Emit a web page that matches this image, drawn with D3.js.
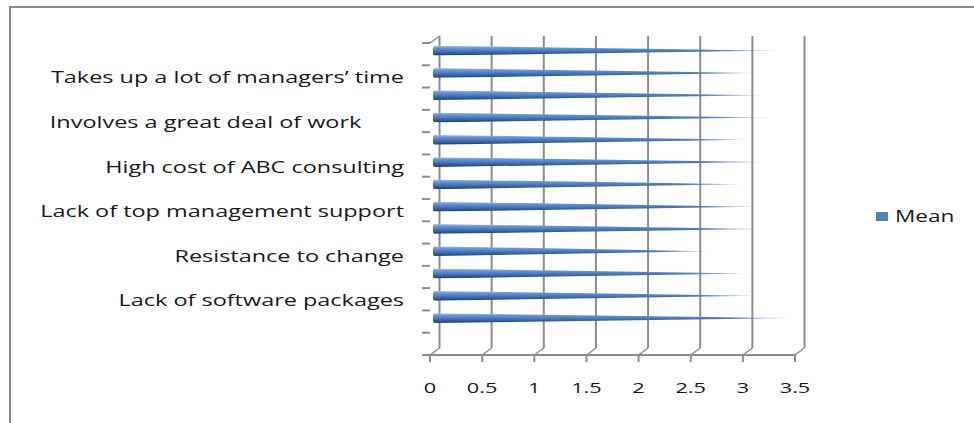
<!DOCTYPE html>
<html><head><meta charset="utf-8">
<script src="https://cdn.jsdelivr.net/npm/d3@7"></script>
<style>
html,body{margin:0;padding:0;background:#fff;}
svg{display:block;}
text{font-family:"Open Sans",sans-serif;fill:#1a1a1a;}
</style></head>
<body>
<script>
// Categories from bottom (first) to top (last); unlabeled ones are hidden by the axis label interval
const categories = ["", "", "Lack of software packages", "", "Resistance to change", "",
  "Lack of top management support", "", "High cost of ABC consulting", "",
  "Involves a great deal of work", "", "Takes up a lot of managers\u2019 time", ""];
const meanValues = [null, 3.42, 3.09, 3.00, 2.64, 3.14, 3.09, 2.95, 3.19, 3.03, 3.23, 3.15, 3.10, 3.30];
const xTicks = [0, 0.5, 1, 1.5, 2, 2.5, 3, 3.5];
const seriesName = "Mean";

const W = 974, H = 423;
const svg = d3.select("body").append("svg").attr("width", W).attr("height", H);
const SX = 1.38; // horizontal stretch of the original picture's text

// outer frame
svg.append("path").attr("d", `M10,${H} L10,7 L${W},7`).attr("fill", "none")
  .attr("stroke", "#8c8c8c").attr("stroke-width", 2);

const dx = 9.5, dy = -7;           // 3D depth offset
const x = d3.scaleLinear().domain([0, 3.5]).range([430, 795]);
const ids = categories.map((c, i) => i);
const y = d3.scaleBand().domain(ids.slice().reverse()).range([43, 355]);
const bw = y.bandwidth();
const gridColor = "#8d8d8d";

const defs = svg.append("defs");
const vg = defs.append("linearGradient").attr("id", "coneFill")
  .attr("x1", 0).attr("y1", 0).attr("x2", 0).attr("y2", 1);
[[0, "#a9c3e8"], [0.22, "#6a97d8"], [0.5, "#4a7cc2"], [0.78, "#2f5c9c"], [1, "#1b3a6b"]]
  .forEach(([o, c]) => vg.append("stop").attr("offset", o).attr("stop-color", c));
const hg = defs.append("linearGradient").attr("id", "fadeGrad")
  .attr("x1", 0).attr("y1", 0).attr("x2", 1).attr("y2", 0);
[[0, 1], [0.8, 1], [0.93, 0.6], [1, 0.3]]
  .forEach(([o, a]) => hg.append("stop").attr("offset", o).attr("stop-color", "#fff").attr("stop-opacity", a));
defs.append("mask").attr("id", "fade").attr("maskContentUnits", "objectBoundingBox")
  .append("rect").attr("width", 1).attr("height", 1).attr("fill", "url(#fadeGrad)");

const g = svg.append("g");
const yTop = y.range()[0], yBot = y.range()[1];

// back wall gridlines
g.selectAll(".grid").data(xTicks).join("line")
  .attr("x1", d => x(d) + dx).attr("x2", d => x(d) + dx)
  .attr("y1", yTop + dy).attr("y2", yBot + dy)
  .attr("stroke", gridColor).attr("stroke-width", 2);
// floor diagonals
g.selectAll(".diag").data(xTicks).join("line")
  .attr("x1", d => x(d)).attr("y1", yBot).attr("x2", d => x(d) + dx).attr("y2", yBot + dy)
  .attr("stroke", gridColor).attr("stroke-width", 1.5);
// front value axis
g.append("line").attr("x1", 422).attr("x2", x(3.5)).attr("y1", yBot).attr("y2", yBot)
  .attr("stroke", gridColor).attr("stroke-width", 2);
g.selectAll(".xt").data(xTicks).join("line")
  .attr("x1", d => x(d)).attr("x2", d => x(d)).attr("y1", yBot).attr("y2", yBot + 7)
  .attr("stroke", gridColor).attr("stroke-width", 2);
g.selectAll(".xl").data(xTicks).join("text")
  .attr("transform", d => `translate(${x(d)},393) scale(1.45,1)`)
  .attr("text-anchor", "middle").attr("font-size", 15).text(d => d);

// category axis ticks (band edges)
const edges = ids.map(i => y(i)).concat([yBot]);
g.selectAll(".yt").data(edges).join("line")
  .attr("x1", 422).attr("x2", 430).attr("y1", d => d).attr("y2", d => d)
  .attr("stroke", gridColor).attr("stroke-width", 2);
g.append("line").attr("x1", 430).attr("y1", yTop).attr("x2", 430 + dx).attr("y2", yTop + dy)
  .attr("stroke", gridColor).attr("stroke-width", 1.5);

// category labels
g.selectAll(".yl").data(ids.filter(i => categories[i] !== "")).join("text")
  .attr("transform", i => `translate(404,${y(i) + bw / 2 + 7}) scale(${SX},1)`)
  .attr("text-anchor", "end").attr("font-size", 17)
  .style("white-space", "pre")
  .text(i => categories[i] + (i === 10 ? "       " : ""));

// cones
const r = 4.9;
g.selectAll(".cone").data(ids.filter(i => meanValues[i] != null)).join("path")
  .attr("d", i => {
    const cy = y(i) + bw / 2 + dy / 2;
    const x0 = x(0) + dx / 2, x1 = x(meanValues[i]) + dx / 2;
    return `M${x0},${cy - r} L${x1},${cy} L${x0},${cy + r} A2,${r} 0 0 1 ${x0},${cy - r} Z`;
  })
  .attr("fill", "url(#coneFill)").attr("mask", "url(#fade)");

// legend
svg.append("rect").attr("x", 876).attr("y", 212).attr("width", 12).attr("height", 9).attr("fill", "#4f81bd");
svg.append("text").attr("transform", `translate(895,222) scale(1.33,1)`).attr("font-size", 17).text(seriesName);
</script>
</body></html>
